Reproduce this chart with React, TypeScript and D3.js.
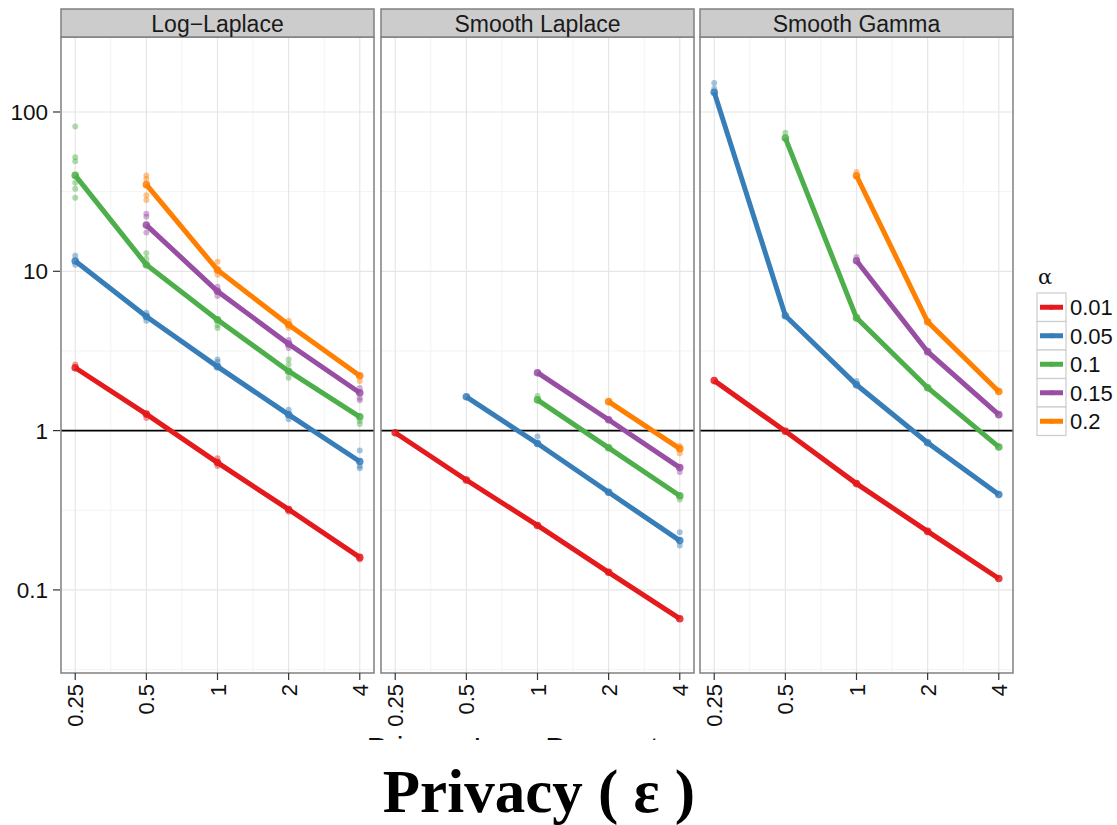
import React from 'react'
import * as d3 from 'd3'

const epsValues = [0.25, 0.5, 1, 2, 4]
const alphaLabels = ['0.01', '0.05', '0.1', '0.15', '0.2']
const alphaColors = ['#E41A1C', '#377EB8', '#4DAF4A', '#984EA3', '#FF7F00']
const methodNames = ['Log−Laplace', 'Smooth Laplace', 'Smooth Gamma']
const yTicks = [0.1, 1, 10, 100]

// median error, rows = alpha, columns = epsilon (null = not run)
const logLaplaceMedians = [
  [2.48, 1.27, 0.63, 0.32, 0.16],
  [11.6, 5.2, 2.52, 1.26, 0.64],
  [40, 11.0, 4.96, 2.36, 1.22],
  [null, 19.5, 7.5, 3.5, 1.73],
  [null, 35, 10.2, 4.62, 2.21],
]
const smoothLaplaceMedians = [
  [0.97, 0.49, 0.254, 0.129, 0.066],
  [null, 1.63, 0.83, 0.41, 0.204],
  [null, null, 1.56, 0.78, 0.39],
  [null, null, 2.31, 1.17, 0.586],
  [null, null, null, 1.52, 0.77],
]
const smoothGammaMedians = [
  [2.06, 0.99, 0.465, 0.233, 0.118],
  [133, 5.26, 1.94, 0.84, 0.397],
  [null, 68.6, 5.1, 1.86, 0.79],
  [null, null, 11.65, 3.13, 1.26],
  [null, null, 39.8, 4.82, 1.76],
]

// individual runs that stray from the median: [alpha index, epsilon, value]
const logLaplaceRuns = [
  [0, 0.25, 2.6], [0, 0.5, 1.2], [0, 1, 0.6], [0, 1, 0.67], [0, 2, 0.31], [0, 4, 0.155],
  [1, 0.25, 12.5], [1, 0.25, 11], [1, 0.5, 5.5], [1, 0.5, 4.9], [1, 1, 2.8], [1, 1, 2.7],
  [1, 2, 1.35], [1, 2, 1.18], [1, 4, 0.75], [1, 4, 0.6], [1, 4, 0.58],
  [2, 0.25, 81], [2, 0.25, 52], [2, 0.25, 49], [2, 0.25, 36], [2, 0.25, 33], [2, 0.25, 29],
  [2, 0.5, 13], [2, 0.5, 12], [2, 1, 4.4], [2, 1, 4.6], [2, 2, 2.8], [2, 2, 2.6], [2, 2, 2.15],
  [2, 4, 1.15], [2, 4, 1.1],
  [3, 0.5, 23], [3, 0.5, 22], [3, 0.5, 17.5], [3, 1, 8], [3, 1, 7], [3, 2, 3.3], [3, 2, 3.7],
  [3, 4, 1.85], [3, 4, 1.6], [3, 4, 1.55],
  [4, 0.5, 40], [4, 0.5, 38], [4, 0.5, 30], [4, 0.5, 28], [4, 1, 11.5], [4, 1, 9.5],
  [4, 2, 4.9], [4, 2, 4.4], [4, 4, 2.05],
]
const smoothLaplaceRuns = [
  [1, 1, 0.92], [1, 4, 0.23], [1, 4, 0.19], [2, 1, 1.65], [2, 4, 0.37],
  [3, 4, 0.55], [4, 4, 0.72], [4, 4, 0.8],
]
const smoothGammaRuns = [
  [1, 0.25, 152], [1, 0.25, 140], [1, 1, 2.05], [2, 0.5, 74], [3, 1, 12.3], [4, 1, 42],
]

const medians = [logLaplaceMedians, smoothLaplaceMedians, smoothGammaMedians]
const runs = [logLaplaceRuns, smoothLaplaceRuns, smoothGammaRuns]

const W = 1117
const H = 825
const panelLefts = [61, 381, 700]
const panelW = 313
const stripTop = 9
const plotTop = 37
const plotBottom = 673
const font = '"Liberation Sans", Arial, Helvetica, sans-serif'

const y = d3.scaleLog().domain([0.0301, 295.6]).range([plotBottom, plotTop])
const pad = Math.pow(2, 0.2)

const Panel = ({ idx }: { idx: number }) => {
  const left = panelLefts[idx]
  const x = d3.scaleLog().base(2).domain([0.25 / pad, 4 * pad]).range([left, left + panelW])
  const line = d3
    .line<[number, number | null]>()
    .defined((d) => d[1] != null)
    .x((d) => x(d[0]))
    .y((d) => y(d[1] as number))
  const minorX = epsValues.slice(1).map((e) => Math.sqrt(e * e / 2))
  const minorY = [-1.5, -0.5, 0.5, 1.5].map((p) => Math.pow(10, p))
  return (
    <g>
      <rect x={left} y={plotTop} width={panelW} height={plotBottom - plotTop} fill="white" />
      {minorX.map((e) => (
        <line key={'mx' + e} x1={x(e)} x2={x(e)} y1={plotTop} y2={plotBottom} stroke="#f3f3f3" strokeWidth={1} />
      ))}
      {minorY.filter((v) => y(v) > plotTop && y(v) < plotBottom).map((v) => (
        <line key={'my' + v} x1={left} x2={left + panelW} y1={y(v)} y2={y(v)} stroke="#f3f3f3" strokeWidth={1} />
      ))}
      {epsValues.map((e) => (
        <line key={'gx' + e} x1={x(e)} x2={x(e)} y1={plotTop} y2={plotBottom} stroke="#e6e6e6" strokeWidth={1.2} />
      ))}
      {yTicks.map((v) => (
        <line key={'gy' + v} x1={left} x2={left + panelW} y1={y(v)} y2={y(v)} stroke="#e6e6e6" strokeWidth={1.2} />
      ))}
      <line x1={left} x2={left + panelW} y1={y(1)} y2={y(1)} stroke="#000" strokeWidth={1.6} />
      {runs[idx].map(([a, e, v], i) => (
        <circle key={'r' + i} cx={x(e)} cy={y(v)} r={3} fill={alphaColors[a]} opacity={0.45} />
      ))}
      {medians[idx].map((row, a) => (
        <g key={'s' + a}>
          <path
            d={line(epsValues.map((e, j) => [e, row[j]] as [number, number | null])) || ''}
            fill="none"
            stroke={alphaColors[a]}
            strokeWidth={5}
          />
          {row.map((v, j) =>
            v == null ? null : (
              <circle key={j} cx={x(epsValues[j])} cy={y(v)} r={3.8} fill={alphaColors[a]} opacity={0.85} />
            )
          )}
        </g>
      ))}
      <rect x={left} y={plotTop} width={panelW} height={plotBottom - plotTop} fill="none" stroke="#808080" strokeWidth={1.5} />
      <rect x={left} y={stripTop} width={panelW} height={plotTop - stripTop} fill="#cccccc" stroke="#808080" strokeWidth={1.5} />
      <text x={left + panelW / 2} y={31.5} textAnchor="middle" fontFamily={font} fontSize={23} fill="#1a1a1a">
        {methodNames[idx]}
      </text>
      {epsValues.map((e) => (
        <g key={'t' + e}>
          <line x1={x(e)} x2={x(e)} y1={plotBottom} y2={plotBottom + 7} stroke="#333" strokeWidth={1.2} />
          <text
            transform={`translate(${x(e) + 8},${plotBottom + 11}) rotate(-90)`}
            textAnchor="end"
            fontFamily={font}
            fontSize={22}
            fill="#111"
          >
            {e}
          </text>
        </g>
      ))}
    </g>
  )
}

const App = () => {
  return (
    <svg width={W} height={H} style={{ position: 'absolute', left: 0, top: 0 }}>
      <rect width={W} height={H} fill="white" />
      {yTicks.map((v) => (
        <g key={v}>
          <line x1={53} x2={60} y1={y(v)} y2={y(v)} stroke="#333" strokeWidth={1.2} />
          <text x={48} y={y(v) + 8} textAnchor="end" fontFamily={font} fontSize={22.5} fill="#111">
            {v}
          </text>
        </g>
      ))}
      {[0, 1, 2].map((i) => (
        <Panel key={i} idx={i} />
      ))}
      <text x={1038} y={284} fontFamily='"DejaVu Serif", "Liberation Serif", serif' fontSize={21} fill="#111">
        α
      </text>
      {alphaLabels.map((lab, i) => {
        const top = 293 + i * 28.5
        return (
          <g key={lab}>
            <rect x={1037} y={top} width={29} height={28.5} fill="white" stroke="#cccccc" strokeWidth={1.2} />
            <line x1={1040} x2={1063} y1={top + 14.25} y2={top + 14.25} stroke={alphaColors[i]} strokeWidth={5} />
            <circle cx={1051.5} cy={top + 14.25} r={2.5} fill={alphaColors[i]} />
            <text x={1070} y={top + 22} fontFamily={font} fontSize={22} fill="#111">
              {lab}
            </text>
          </g>
        )
      })}
      <text x={526} y={757.5} textAnchor="middle" fontFamily={font} fontSize={30} fill="#111">
        Privacy Loss Parameter
      </text>
      <rect x={0} y={740} width={W} height={H - 740} fill="white" />
      <text
        x={539}
        y={812}
        textAnchor="middle"
        fontFamily='"Liberation Serif", "DejaVu Serif", serif'
        fontWeight="bold"
        fontSize={61}
        fill="#000"
      >
        Privacy ( ε )
      </text>
    </svg>
  )
}

export default App
